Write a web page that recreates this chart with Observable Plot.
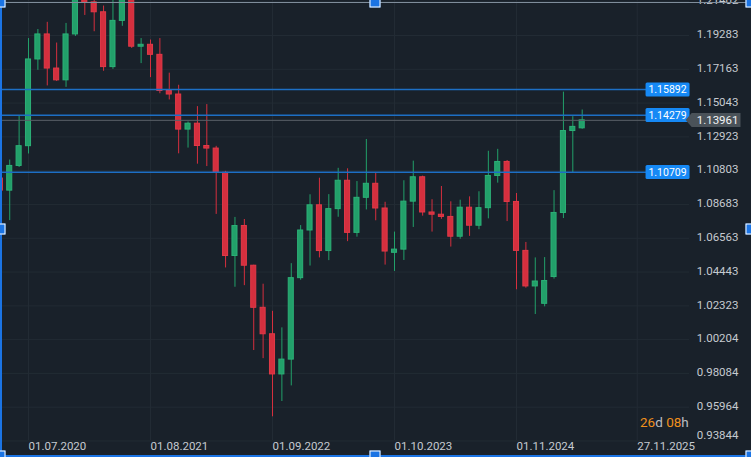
<!DOCTYPE html>
<html>
<head>
<meta charset="utf-8">
<script src="https://cdn.jsdelivr.net/npm/d3@7"></script>
<script src="https://cdn.jsdelivr.net/npm/@observablehq/plot@0.6"></script>
<style>
  html, body { margin: 0; padding: 0; background: #19212a; }
  #wrap { position: relative; width: 751px; height: 457px; overflow: hidden; font-family: Roboto, sans-serif; background: #19212a; }
  #wrap svg { display: block; }
  .countdown { position: absolute; left: 640px; top: 413px; font-size: 13.5px; line-height: 18px; color: #b9bdc2; white-space: nowrap; }
  .countdown .num { color: #f0901c; }
  .sel-top { position: absolute; left: 0; top: 2px; width: 751px; height: 1px; background: #7f8d9b; }
  .sel-left { position: absolute; left: 0; top: 0; width: 2px; height: 457px; background: #1b74e4; }
  .sel-bottom { position: absolute; left: 0; top: 455px; width: 751px; height: 2px; background: #1b74e4; }
  .handle { position: absolute; width: 11px; height: 11px; background: #1b74e4; border: 1px solid #ffffff; box-sizing: border-box; transform: translate(-50%, -50%); }
</style>
</head>
<body>
<div id="wrap"></div>
<script>
// ---- data (EUR/USD monthly candles) ----
const months = ["2020-04","2020-05","2020-06","2020-07","2020-08","2020-09","2020-10","2020-11","2020-12",
  "2021-01","2021-02","2021-03","2021-04","2021-05","2021-06","2021-07","2021-08","2021-09","2021-10","2021-11","2021-12",
  "2022-01","2022-02","2022-03","2022-04","2022-05","2022-06","2022-07","2022-08","2022-09","2022-10","2022-11","2022-12",
  "2023-01","2023-02","2023-03","2023-04","2023-05","2023-06","2023-07","2023-08","2023-09","2023-10","2023-11","2023-12",
  "2024-01","2024-02","2024-03","2024-04","2024-05","2024-06","2024-07","2024-08","2024-09","2024-10","2024-11","2024-12",
  "2025-01","2025-02","2025-03","2025-04","2025-05","2025-06"];
const open = [1.1031,1.0955,1.1110,1.1234,1.1778,1.1935,1.1721,1.1647,1.1935,
  1.2216,1.2136,1.2074,1.1730,1.2020,1.2228,1.1858,1.1870,1.1807,1.1580,1.1558,1.1338,
  1.1375,1.1235,1.1219,1.1067,1.0545,1.0733,1.0484,1.0220,1.0054,0.9802,0.9895,1.0406,
  1.0705,1.0863,1.0576,1.0839,1.1017,1.0690,1.0910,1.0998,1.0843,1.0565,1.0585,1.0886,
  1.1039,1.0818,1.0804,1.0790,1.0666,1.0848,1.0735,1.0845,1.1047,1.1135,1.0884,1.0577,
  1.0354,1.0245,1.0413,1.0815,1.1329,1.1346];
const high = [1.1040,1.1147,1.1422,1.1909,1.1966,1.2011,1.1881,1.2004,1.2310,
  1.2350,1.2243,1.2113,1.2150,1.2266,1.2254,1.1909,1.1900,1.1909,1.1692,1.1616,1.1386,
  1.1482,1.1495,1.1233,1.1076,1.0787,1.0774,1.0487,1.0368,1.0198,1.0094,1.0497,1.0736,
  1.0929,1.1033,1.0930,1.1095,1.1092,1.1012,1.1276,1.1065,1.0882,1.0695,1.1017,1.1140,
  1.1046,1.0898,1.0981,1.0885,1.0895,1.0916,1.0948,1.1202,1.1214,1.1144,1.0937,1.0630,
  1.0533,1.0535,1.0955,1.1573,1.1419,1.1461];
const low = [1.0727,1.0767,1.1100,1.1185,1.1710,1.1612,1.1640,1.1603,1.1922,
  1.2054,1.1952,1.1704,1.1716,1.1986,1.1847,1.1752,1.1664,1.1563,1.1524,1.1186,1.1222,
  1.1121,1.1106,1.0806,1.0470,1.0349,1.0359,0.9952,0.9901,0.9536,0.9632,0.9730,1.0393,
  1.0482,1.0533,1.0516,1.0788,1.0635,1.0663,1.0834,1.0766,1.0488,1.0448,1.0517,1.0724,
  1.0795,1.0695,1.0775,1.0601,1.0650,1.0668,1.0710,1.0778,1.1002,1.0761,1.0333,1.0343,
  1.0178,1.0226,1.0400,1.0780,1.1065,1.1340];
const close = [1.0955,1.1110,1.1234,1.1778,1.1935,1.1721,1.1647,1.1935,1.2216,
  1.2136,1.2074,1.1730,1.2020,1.2228,1.1858,1.1870,1.1807,1.1580,1.1558,1.1338,1.1375,
  1.1235,1.1219,1.1067,1.0545,1.0733,1.0484,1.0220,1.0054,0.9802,0.9895,1.0406,1.0705,
  1.0863,1.0576,1.0839,1.1017,1.0690,1.0910,1.0998,1.0843,1.0573,1.0585,1.0886,1.1039,
  1.0818,1.0804,1.0790,1.0666,1.0848,1.0735,1.0845,1.1047,1.1135,1.0884,1.0577,1.0354,
  1.0385,1.0388,1.0815,1.1329,1.1355,1.13961];

const yTicks = [1.21402,1.19283,1.17163,1.15043,1.12923,1.10803,1.08683,1.06563,1.04443,1.02323,1.00204,0.98084,0.95964,0.93844];
const xTickDates = ["2020-07-01","2021-08-01","2022-09-01","2023-10-01","2024-11-01","2025-11-27"];
const xTickLabels = ["01.07.2020","01.08.2021","01.09.2022","01.10.2023","01.11.2024","27.11.2025"];
const levels = [1.15892, 1.14279, 1.10709];
const lastPrice = 1.13961;
const countdownParts = [["26","num"],["d",""],[" ",""],["08","num"],["h",""]];

// ---- helpers ----
function monthPos(s) {
  const [Y, M, D] = s.split("-").map(Number);
  return (Y - 2020) * 12 + (M - 1) + ((D || 1) - 1) / 30;
}
const candles = months.map((m, i) => ({t: monthPos(m), o: open[i], h: high[i], l: low[i], c: close[i]}));
const ticksX = xTickDates.map((d, i) => ({t: monthPos(d), label: xTickLabels[i]}));

const GREEN = "#22a06a", GREEN_EDGE = "#2cb077";
const RED = "#d52f3e", RED_EDGE = "#e23a48";
const GRID = "#222b34";
const up = d => d.c >= d.o;

const chart = Plot.plot({
  width: 751,
  height: 457,
  marginLeft: 0,
  marginRight: 62,
  marginTop: 0,
  marginBottom: 17,
  style: {background: "#19212a", color: "#c6cad0", fontFamily: "Roboto, sans-serif"},
  x: {type: "linear", domain: [monthPos("2020-07"), monthPos("2025-12")], range: [28, 638], axis: null},
  y: {type: "linear", domain: [0.95964, 1.19283], range: [406.7, 35], axis: null},
  color: {type: "identity"},
  marks: [
    Plot.ruleY(yTicks, {y: d => d, stroke: GRID, strokeWidth: 1}),
    Plot.ruleX(ticksX, {x: "t", stroke: GRID, strokeWidth: 1}),
    Plot.ruleX(candles, {x: "t", y1: "l", y2: "h", stroke: d => up(d) ? GREEN : RED, strokeWidth: 1}),
    Plot.rect(candles, {x1: d => d.t - 0.27, x2: d => d.t + 0.27, y1: "o", y2: "c",
      fill: d => up(d) ? GREEN : RED, stroke: d => up(d) ? GREEN_EDGE : RED_EDGE, strokeWidth: 1}),
    Plot.ruleY(levels, {y: d => d, stroke: "#1d6fc4", strokeWidth: 1.5}),
    Plot.ruleY([lastPrice], {y: d => d, stroke: "#5a6168", strokeWidth: 1}),
    // price axis labels
    Plot.text(yTicks.slice(0, -1), {y: d => d, text: d => d.toFixed(5), frameAnchor: "right", textAnchor: "end",
      lineAnchor: "middle", dx: 49, dy: -1, fill: "#c6cad0", fontSize: 11.5}),
    Plot.text(yTicks.slice(-1), {y: d => d, text: d => d.toFixed(5), frameAnchor: "right", textAnchor: "end",
      lineAnchor: "middle", dx: 49, dy: -6, fill: "#c6cad0", fontSize: 11.5}),
    // time axis labels
    Plot.text(ticksX, {x: "t", text: "label", frameAnchor: "bottom", textAnchor: "start", lineAnchor: "middle",
      dy: 6, fill: "#c6cad0", fontSize: 11.5}),
    // level tags
    Plot.text(levels, {y: d => d, text: d => d.toFixed(5), frameAnchor: "right", textAnchor: "middle",
      lineAnchor: "middle", dx: -22, fill: "#ffffff", fontSize: 10.5}),
    // current price tag
    Plot.text([lastPrice], {y: d => d, text: d => d.toFixed(5), frameAnchor: "right", textAnchor: "end",
      lineAnchor: "middle", dx: 49, fill: "#f2f4f6", fontSize: 11.5})
  ]
});

const wrap = document.getElementById("wrap");
wrap.appendChild(chart);

// backgrounds for the tag labels
const levelStrings = new Set(levels.map(v => v.toFixed(5)));
const lastString = lastPrice.toFixed(5);
const NS = "http://www.w3.org/2000/svg";
chart.querySelectorAll("text").forEach(t => {
  const s = t.textContent;
  if (!levelStrings.has(s) && s !== lastString) return;
  const b = t.getBBox();
  const cy = b.y + b.height / 2;
  let shape;
  if (levelStrings.has(s)) {
    const cx = b.x + b.width / 2;
    shape = document.createElementNS(NS, "rect");
    shape.setAttribute("x", cx - 22);
    shape.setAttribute("y", cy - 7);
    shape.setAttribute("width", 44);
    shape.setAttribute("height", 14);
    shape.setAttribute("rx", 1.5);
    shape.setAttribute("fill", "#1689f5");
  } else {
    const L = b.x - 5, R = b.x + b.width + 2;
    shape = document.createElementNS(NS, "path");
    shape.setAttribute("d", `M${L - 6},${cy} L${L},${cy - 7} L${R},${cy - 7} L${R},${cy + 7} L${L},${cy + 7} Z`);
    shape.setAttribute("fill", "#4a5259");
  }
  const tr = t.getAttribute("transform");
  if (tr) shape.setAttribute("transform", tr);
  t.parentNode.insertBefore(shape, t);
});

// countdown text
const cd = document.createElement("div");
cd.className = "countdown";
countdownParts.forEach(([txt, cls]) => {
  const sp = document.createElement("span");
  if (cls) sp.className = cls;
  sp.textContent = txt;
  cd.appendChild(sp);
});
wrap.appendChild(cd);

// selection frame and handles
["sel-top", "sel-left", "sel-bottom"].forEach(c => {
  const d = document.createElement("div"); d.className = c; wrap.appendChild(d);
});
[[0,2],[375,2],[751,2],[0,229],[751,229],[0,456],[375,456],[751,456]].forEach(([x, y]) => {
  const h = document.createElement("div");
  h.className = "handle";
  h.style.left = x + "px";
  h.style.top = y + "px";
  wrap.appendChild(h);
});
</script>
</body>
</html>
